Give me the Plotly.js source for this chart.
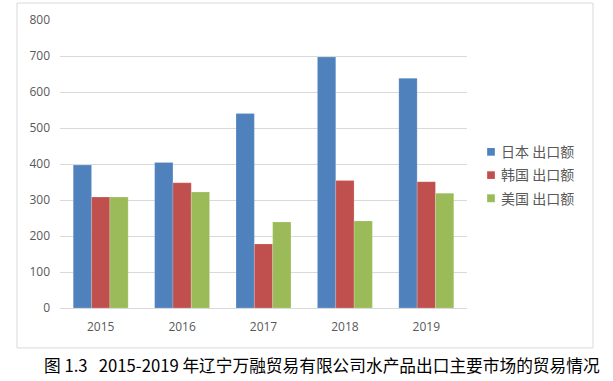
<!DOCTYPE html>
<html><head><meta charset="utf-8">
<script src="https://cdn.plot.ly/plotly-3.0.1.min.js"></script>
<style>html,body{margin:0;padding:0;background:#fff;}#c{width:613px;height:381px;}
.legend .legendpoints path{transform:translate(30px,0px) scale(0.65);}
</style>
</head><body><div id="c"></div>
<script>
var years = ['2015','2016','2017','2018','2019'];
var seriesNames = ['日本 出口额','韩国 出口额','美国 出口额'];
var japan = [397, 404, 540, 697, 638];
var korea = [308, 348, 178, 354, 351];
var usa = [308, 322, 239, 242, 319];
var yTicks = [0,100,200,300,400,500,600,700,800];
var caption = '图 1.3\u00a0\u00a0\u00a02015-2019 年辽宁万融贸易有限公司水产品出口主要市场的贸易情况';

var colors = ['#4F81BD','#C0504D','#9BBB59'];
var vals = [japan, korea, usa];
var traces = vals.map(function(v,i){
  return {type:'bar', x:years, y:v, name:seriesNames[i], legendgroup:'g'+i,
    marker:{color:colors[i], line:{color:'rgba(255,255,255,0.35)', width:0.5}}, hoverinfo:'none'};
});
var L=60, R=467, T=19.5, B=308;
var W=R-L, H=B-T;
function px(x){return (x-L)/W;}
function py(y){return (B-y)/H;}
var layout = {
  width:613, height:381,
  margin:{l:L, r:613-R, t:T, b:381-B, pad:0},
  paper_bgcolor:'#fff', plot_bgcolor:'#fff',
  barmode:'group', bargap:0.325, bargroupgap:0,
  font:{family:'"Noto Sans CJK SC", "Open Sans", sans-serif', color:'#595959'},
  xaxis:{type:'category', showgrid:false, zeroline:false, showline:false, ticks:'',
    tickfont:{size:12, family:'"Open Sans", "Liberation Sans", sans-serif', color:'#595959'}, ticklabelstandoff:10},
  yaxis:{range:[0,800], tickvals:yTicks, ticktext:yTicks.map(String), showgrid:true, gridcolor:'#D9D9D9', gridwidth:1,
    zeroline:true, zerolinecolor:'#D9D9D9', zerolinewidth:1, showline:false, ticks:'',
    tickfont:{size:12, family:'"Open Sans", "Liberation Sans", sans-serif', color:'#595959'}, ticklabelstandoff:9},
  showlegend:true,
  legend:{x:px(461), xanchor:'left', y:py(175), yanchor:'middle', bgcolor:'rgba(0,0,0,0)',
    font:{size:14, family:'"Noto Sans CJK SC", sans-serif', color:'#595959'}, tracegroupgap:2, itemwidth:30},
  shapes:[{type:'rect', xref:'paper', yref:'paper', x0:px(17), x1:px(593), y0:py(348), y1:py(2.5),
    line:{color:'#D9D9D9', width:1}, fillcolor:'rgba(0,0,0,0)', layer:'below'}],
  annotations:[{xref:'paper', yref:'paper', x:px(42), y:py(365), xanchor:'left', yanchor:'middle', showarrow:false,
    text:caption, font:{size:16.7, family:'"Noto Sans CJK SC", sans-serif', color:'#000'}}]
};
Plotly.newPlot('c', traces, layout, {staticPlot:true, displayModeBar:false});
</script></body></html>
